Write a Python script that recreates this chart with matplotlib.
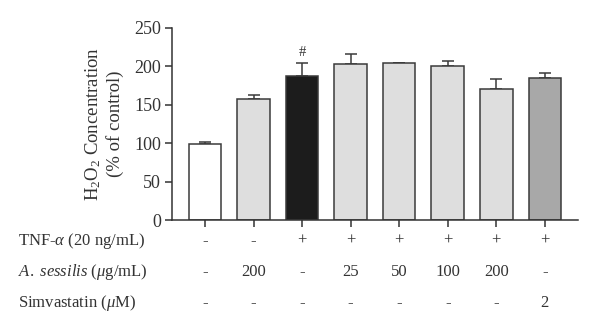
import numpy as np
import matplotlib
matplotlib.use("Agg")
import matplotlib.pyplot as plt

plt.rcParams["font.family"] = ["Liberation Serif", "DejaVu Serif"]
plt.rcParams["mathtext.fontset"] = "custom"
plt.rcParams["mathtext.rm"] = "Liberation Serif"
plt.rcParams["mathtext.it"] = "Liberation Serif:italic"

# H2O2 level per treatment group (% of control), mean and upper SEM
means = [99, 158, 188, 203, 204, 200, 171, 185]
errs = [3, 5, 17, 13.5, 0.7, 6.5, 13, 6.5]
colors = ["#ffffff", "#dedede", "#1c1c1c", "#dedede", "#dedede", "#dedede", "#dedede", "#a8a8a8"]

# treatment table under the bars
row_labels = ["TNF-$\\it{\\alpha}$ (20 ng/mL)",
              "$\\it{A.\\ sessilis}$ ($\\it{\\mu}$g/mL)",
              "Simvastatin ($\\it{\\mu}$M)"]
tnf = ["-", "-", "+", "+", "+", "+", "+", "+"]
sessilis = ["-", "200", "-", "25", "50", "100", "200", "-"]
simva = ["-", "-", "-", "-", "-", "-", "-", "2"]

fig = plt.figure(figsize=(6, 3.36), dpi=100)
ax = fig.add_axes([0.2867, 0.345, 0.6763, 0.5717])

x = np.arange(len(means))
ax.bar(x, means, width=0.67, color=colors, edgecolor="#3a3a3a", linewidth=1.1, zorder=2)
ax.errorbar(x, means, yerr=[np.zeros(len(errs)), errs], fmt="none",
            ecolor="#3a3a3a", elinewidth=1.1, capsize=4.5, capthick=1.1, zorder=1)
ax.text(x[2], means[2] + errs[2] + 4, "#", ha="center", va="bottom", fontsize=10.5, color="#333333")

ax.set_xlim(-0.68, 7.68)
ax.set_ylim(0, 250)
ax.set_yticks([0, 50, 100, 150, 200, 250])
ax.set_xticks(x)
ax.set_xticklabels([])
for s in ["top", "right"]:
    ax.spines[s].set_visible(False)
for s in ["left", "bottom"]:
    ax.spines[s].set_color("#333333")
    ax.spines[s].set_linewidth(1.1)
ax.tick_params(axis="both", direction="out", length=5, width=1.1, color="#333333",
               labelsize=13, labelcolor="#333333")
ax.tick_params(axis="y", pad=3)

ax.set_ylabel("H$_2$O$_2$ Concentration\n(% of control)", fontsize=13.5, color="#333333",
              linespacing=1.25, labelpad=7)

# table rows in data-x / figure-y coordinates
trans = matplotlib.transforms.blended_transform_factory(ax.transData, fig.transFigure)
row_y = [1 - 241 / 336, 1 - 272 / 336, 1 - 303 / 336]
for ry, lab, vals in zip(row_y, row_labels, [tnf, sessilis, simva]):
    fig.text(18 / 600, ry, lab, ha="left", va="center", fontsize=12, color="#333333")
    for xi, v in zip(x, vals):
        ax.text(xi, ry, v, transform=trans, ha="center", va="center",
                fontsize=12, color="#333333")

fig.savefig("out.png", dpi=100)
